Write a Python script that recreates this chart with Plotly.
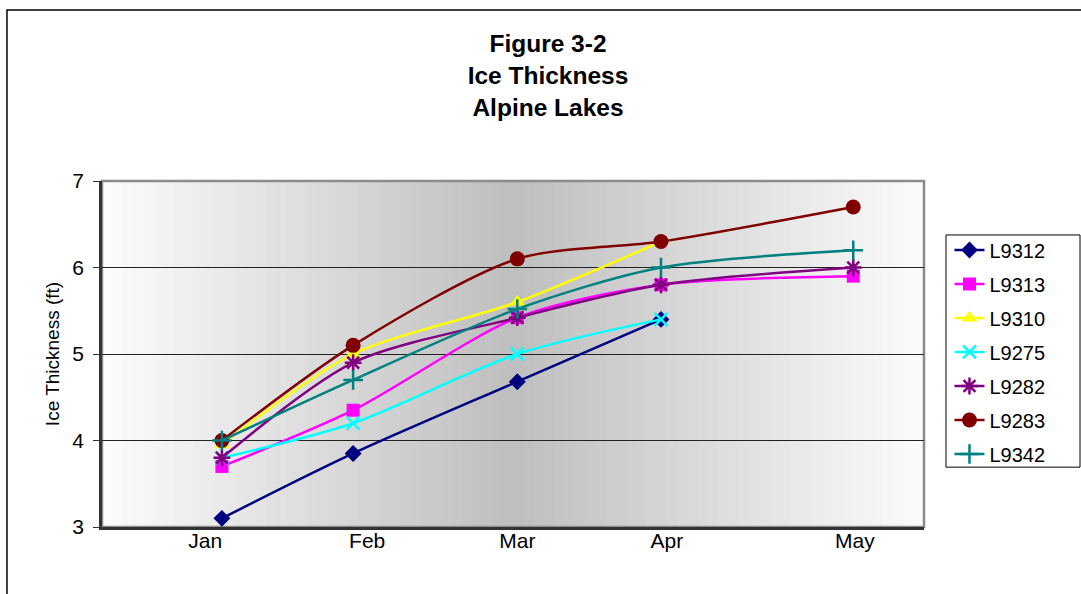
import plotly.graph_objects as go

# ---- data ----
days = [22.2, 46.5, 76.9, 103.5, 139.1]          # measurement day-of-year
month_ticks = [19.1, 49.1, 76.9, 104.6, 139.4]   # label positions (day-of-year)
month_labels = ["Jan", "Feb", "Mar", "Apr", "May"]

L9312 = [3.10, 3.85, 4.68, 5.40, None]
L9313 = [3.70, 4.35, 5.42, 5.80, 5.90]
L9310 = [3.95, 5.00, 5.60, 6.30, None]
L9275 = [3.80, 4.20, 5.00, 5.40, None]
L9282 = [3.80, 4.90, 5.42, 5.80, 6.00]
L9283 = [4.00, 5.10, 6.10, 6.30, 6.70]
L9342 = [4.00, 4.70, 5.52, 6.00, 6.20]

series = [
    ("L9312", L9312, "#000080", "diamond", 13, 0),
    ("L9313", L9313, "#FF00FF", "square", 13, 0),
    ("L9310", L9310, "#FFFF00", "triangle-up", 14, 0),
    ("L9275", L9275, "#00FFFF", "x-thin-open", 13, 2.5),
    ("L9282", L9282, "#800080", "asterisk-open", 14, 2.5),
    ("L9283", L9283, "#800000", "circle", 15, 0),
    ("L9342", L9342, "#008080", "cross-thin-open", 14, 2.5),
]

FONT = "Liberation Sans, Arial, sans-serif"

fig = go.Figure()
for i, (name, vals, col, sym, size, lw) in enumerate(series):
    fig.add_trace(go.Scatter(
        x=days, y=vals, name=name, mode="lines+markers",
        line=dict(color=col, width=2.5, shape="spline", smoothing=0.8),
        marker=dict(symbol=sym, size=size, color=col,
                    line=dict(color=col, width=lw)),
        legendgroup=f"g{i}",
    ))

# gradient background (white - gray - white)
shapes = []
N = 80
for k in range(N):
    t = (k + 0.5) / N
    f = 1 - abs(2 * t - 1)
    v = int(round(252 - (252 - 190) * f))
    shapes.append(dict(type="rect", xref="x domain", yref="y domain",
                       x0=k / N, x1=(k + 1) / N + 0.002, y0=0, y1=1,
                       fillcolor=f"rgb({v},{v},{v})", line=dict(width=0),
                       layer="below"))
# gray plot-area border (top/right)
shapes.append(dict(type="rect", xref="x domain", yref="y domain",
                   x0=0, x1=1, y0=0, y1=1,
                   line=dict(color="#8c8c8c", width=2.5), layer="below"))
# outer chart border
shapes.append(dict(type="rect", xref="paper", yref="paper",
                   x0=-0.1156, x1=1.4, y0=-0.4, y1=1.494,
                   line=dict(color="black", width=1.5), layer="below"))
# legend frame (pixel-sized, anchored at the paper's right edge)
shapes.append(dict(type="rect", xref="paper", yref="paper",
                   xsizemode="pixel", xanchor=1, x0=22, x1=156,
                   y0=0.173, y1=0.844,
                   fillcolor="white", line=dict(color="black", width=1),
                   layer="below"))

fig.update_layout(
    width=1081, height=594,
    margin=dict(l=102, r=157, t=181, b=67),
    paper_bgcolor="white", plot_bgcolor="white",
    font=dict(family=FONT, size=21, color="black"),
    title=dict(text="<b>Figure 3-2<br>Ice Thickness<br>Alpine Lakes</b>",
               x=548 / 1081, xanchor="center", xref="container",
               y=1 - 52 / 594, yanchor="middle", yref="container",
               font=dict(family=FONT, size=24.5, color="black")),
    shapes=shapes,
    showlegend=True,
    legend=dict(x=1.031, y=0.857, xanchor="left", yanchor="top",
                borderwidth=0, bgcolor="rgba(0,0,0,0)",
                font=dict(family=FONT, size=20), tracegroupgap=5),
    xaxis=dict(range=[0, 152.2], tickvals=month_ticks, ticktext=month_labels,
               showgrid=False, zeroline=False, showline=True,
               linecolor="#333333", linewidth=2.5, ticks="",
               ticklabelstandoff=-7, tickfont=dict(size=21)),
    yaxis=dict(range=[3, 7], dtick=1, showgrid=True, gridcolor="#222222",
               gridwidth=1, zeroline=False, showline=True,
               linecolor="#333333", linewidth=2.5, ticks="outside",
               ticklen=6, tickcolor="#333333", tickfont=dict(size=21),
               ticklabelstandoff=5,
               title=dict(text="Ice Thickness (ft)", font=dict(size=19),
                          standoff=8)),
)

fig.write_html("out.html", config={"displayModeBar": False},
               post_script="document.body.style.margin='0';")
